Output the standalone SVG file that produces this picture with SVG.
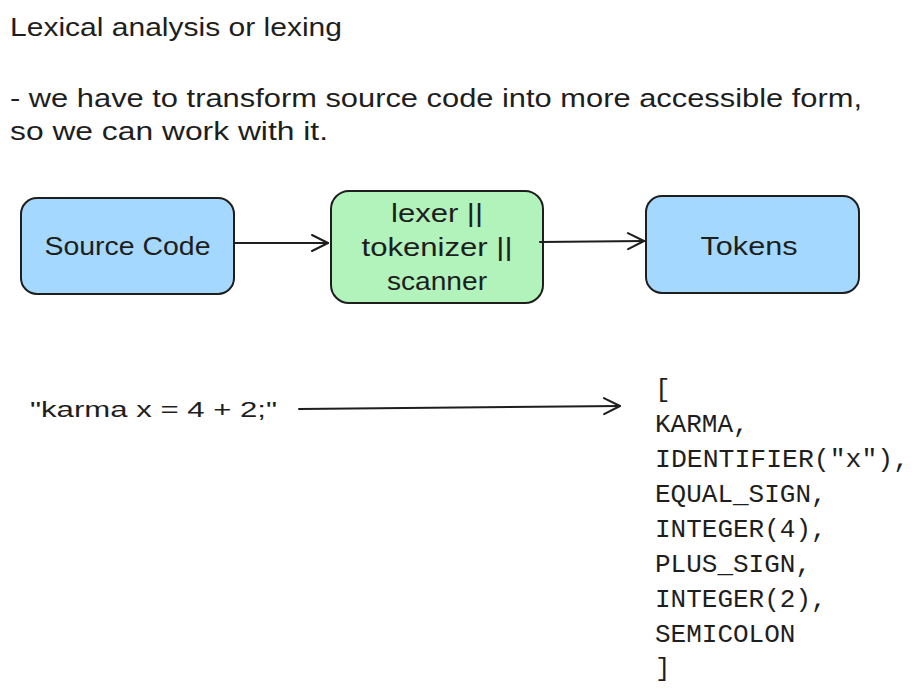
<svg xmlns="http://www.w3.org/2000/svg" width="919" height="696" viewBox="0 0 919 696">
<style>
.t{font-family:"Liberation Sans","DejaVu Sans",sans-serif;fill:#1e1e1e}
.m{font-family:"Liberation Mono","DejaVu Sans Mono",monospace;fill:#1e1e1e;font-size:26px}
.box{stroke:#1e1e1e;stroke-width:2}
.c{stroke:#1e1e1e;stroke-width:2;fill:none;stroke-linecap:round}
</style>
<defs>
<marker id="ah" viewBox="0 0 20 20" refX="18" refY="10" markerWidth="20" markerHeight="20" markerUnits="userSpaceOnUse" orient="auto">
<path d="M2 2 L18 10 L2 18" fill="none" stroke="#1e1e1e" stroke-width="2" stroke-linecap="round" stroke-linejoin="round"/>
</marker>
</defs>
<rect width="919" height="696" fill="#ffffff"/>
<g id="intro">
<text class="t" x="10" y="36" font-size="25" textLength="332" lengthAdjust="spacingAndGlyphs">Lexical analysis or lexing</text>
<text class="t" x="10" y="107" font-size="25" textLength="852" lengthAdjust="spacingAndGlyphs">- we have to transform source code into more accessible form,</text>
<text class="t" x="10" y="140" font-size="25" textLength="318" lengthAdjust="spacingAndGlyphs">so we can work with it.</text>
</g>
<g id="source-code">
<rect class="box" x="21" y="198" width="213" height="96" rx="16" fill="#a5d8ff"/>
<text class="t" x="127.5" y="255" font-size="25" text-anchor="middle" textLength="166" lengthAdjust="spacingAndGlyphs">Source Code</text>
</g>
<g id="lexer">
<rect class="box" x="331" y="191" width="212" height="112" rx="18" fill="#b2f2bb"/>
<text class="t" x="437" y="222" font-size="25" text-anchor="middle" textLength="92" lengthAdjust="spacingAndGlyphs">lexer ||</text>
<text class="t" x="437" y="256" font-size="25" text-anchor="middle" textLength="151" lengthAdjust="spacingAndGlyphs">tokenizer ||</text>
<text class="t" x="437" y="290" font-size="25" text-anchor="middle" textLength="100" lengthAdjust="spacingAndGlyphs">scanner</text>
</g>
<g id="tokens">
<rect class="box" x="646" y="196" width="213" height="97" rx="16" fill="#a5d8ff"/>
<text class="t" x="749" y="255" font-size="25" text-anchor="middle" textLength="97" lengthAdjust="spacingAndGlyphs">Tokens</text>
</g>
<g id="input-string">
<text class="t" x="30" y="417" font-size="22" textLength="247" lengthAdjust="spacingAndGlyphs">"karma x = 4 + 2;"</text>
</g>
<g id="token-list">
<text class="m" x="655" y="397">[</text>
<text class="m" x="655" y="432">KARMA,</text>
<text class="m" x="655" y="467" textLength="254" lengthAdjust="spacingAndGlyphs">IDENTIFIER("x"),</text>
<text class="m" x="655" y="502">EQUAL_SIGN,</text>
<text class="m" x="655" y="537">INTEGER(4),</text>
<text class="m" x="655" y="572">PLUS_SIGN,</text>
<text class="m" x="655" y="607">INTEGER(2),</text>
<text class="m" x="655" y="642">SEMICOLON</text>
<text class="m" x="655" y="676">]</text>
</g>
<g id="connectors">
<path class="c" d="M235 243 L328 243" marker-end="url(#ah)"/>
<path class="c" d="M540 242 L644 241" marker-end="url(#ah)"/>
<path class="c" d="M299 409 L620 406" stroke-width="2.5" marker-end="url(#ah)"/>
</g>
</svg>
